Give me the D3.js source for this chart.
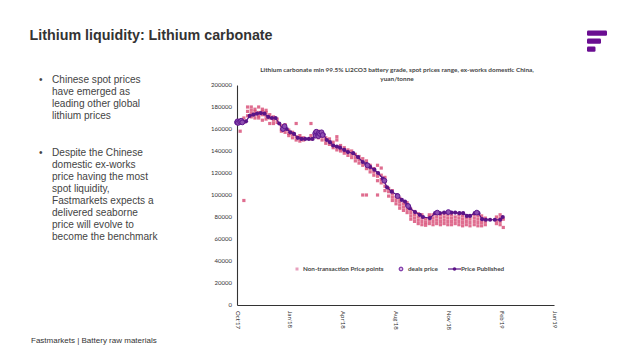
<!DOCTYPE html>
<html><head><meta charset="utf-8">
<script src="https://cdn.jsdelivr.net/npm/d3@7"></script>
<style>body{margin:0;background:#fff}svg{display:block}</style>
</head><body>
<svg id="c" width="638" height="359"></svg>
<script>
// ---------- data ----------
const xTickLabels = ["Oct'17","Jan'18","Apr'18","Aug'18","Nov'18","Feb'19","Jun'19"];
const yTicks = [0,20000,40000,60000,80000,100000,120000,140000,160000,180000,200000];

const publishedDates = ["2017-10-10","2017-10-13","2017-10-17","2017-10-20","2017-10-27","2017-11-03","2017-11-10","2017-11-17","2017-11-24","2017-12-01","2017-12-08","2017-12-15","2017-12-22","2017-12-29","2018-01-05","2018-01-09","2018-01-12","2018-01-19","2018-01-26","2018-02-02","2018-02-09","2018-02-16","2018-02-23","2018-03-02","2018-03-07","2018-03-09","2018-03-16","2018-03-23","2018-03-29","2018-04-04","2018-04-10","2018-04-17","2018-04-23","2018-05-01","2018-05-08","2018-05-18","2018-05-27","2018-06-05","2018-06-12","2018-06-19","2018-06-27","2018-07-04","2018-07-13","2018-07-21","2018-07-30","2018-08-09","2018-08-18","2018-08-24","2018-08-28","2018-09-02","2018-09-12","2018-09-21","2018-09-27","2018-10-10","2018-10-20","2018-10-29","2018-11-06","2018-11-13","2018-11-20","2018-11-27","2018-12-05","2018-12-12","2018-12-19","2018-12-25","2019-01-03","2019-01-10","2019-01-17","2019-01-24","2019-02-01","2019-02-10","2019-02-20","2019-02-25"];
const publishedValues = [166500,166500,166000,167000,167000,172000,173000,174000,174500,174000,171000,170000,170000,165000,159500,162000,160000,157000,155500,152000,151000,151000,151000,151000,155000,156000,156000,155000,150000,148000,145000,144000,143000,141000,139000,138000,134500,130000,128000,125500,123000,120000,115000,107000,103000,100000,95500,94000,91000,88000,84500,82000,80000,79000,83500,83500,84000,84000,84000,84000,83500,83500,81000,81000,83500,83500,78000,77500,77500,77500,77500,80000];

const dealDates = ["2017-10-10","2017-10-11","2017-10-12","2017-10-16","2017-10-18","2017-10-20","2018-01-05","2018-01-08","2018-03-07","2018-03-08","2018-03-09","2018-03-12","2018-03-13","2018-03-14","2018-03-16","2018-03-19","2018-03-21","2018-06-14","2018-07-16","2018-08-10","2018-08-30","2018-10-24","2018-11-14","2019-01-07"];
const dealValues = [166000,167000,165500,166500,167500,166000,160000,162500,156000,154000,157500,155000,153500,156500,155500,157000,154500,127000,113000,99000,90000,84000,84500,84000];

const nonTxDates = ["2017-10-12","2017-10-16","2017-10-23","2017-10-30","2017-11-06","2017-11-13","2017-11-20","2017-11-27","2017-12-04","2017-12-11","2017-12-18","2017-12-25","2018-01-02","2018-01-09","2018-01-16","2018-01-23","2018-01-30","2018-02-06","2018-02-13","2018-02-27","2018-03-06","2018-03-13","2018-03-20","2018-03-27","2018-04-03","2018-04-10","2018-04-17","2018-04-24","2018-05-01","2018-05-08","2018-05-15","2018-05-22","2018-05-29","2018-06-05","2018-06-12","2018-06-19","2018-06-26","2018-07-03","2018-07-10","2018-07-17","2018-07-24","2018-07-31","2018-08-07","2018-08-14","2018-08-21","2018-08-28","2018-09-04","2018-09-11","2018-09-18","2018-09-25","2018-10-02","2018-10-09","2018-10-16","2018-10-23","2018-10-30","2018-11-06","2018-11-13","2018-11-20","2018-11-27","2018-12-04","2018-12-11","2018-12-18","2018-12-25","2019-01-02","2019-01-09","2019-01-16","2019-01-23","2019-02-13","2019-02-20","2019-02-26"];
const nonTxValues = [
 [167000,165000],[158000,168000],[95000,166000,170000],[172000,176000,180000],[171000,174000,177000,180000],
 [170000,173000,176000,178000],[170000,172000,175000,180000],[168000,173000,176000,178000],[169000,172000,175000,177000],[165000,170000,173000],
 [165000,168000,171000],[166000,169000],[158000,160000,163000],[157000,160000,164000],[154000,156000,159000],
 [152000,155000,157000],[150000,153000,165000],[149000,152000,154000],[150000,152000],[151000,154000,165000],
 [153000,157000],[152000,155000,158000],[150000,153000,156000],[147000,150000,152000],[146000,148000,151000],
 [143000,145000,148000],[141000,144000,150000,153000],[140000,142000,145000],[138000,140000,143000],[136000,139000,141000],
 [134000,137000,140000],[131000,134000,137000],[129000,132000,135000],[100000,127000,130000,133000],[100000,124000,128000,131000],
 [121000,124000,127000],[118000,121000,124000],[100000,113000,117000,120000,127000],[111000,114000,118000,124500],[104000,108000,112000,116000],
 [99000,103000,106000],[95000,98000,101000,104000],[92000,95000,98000],[88000,91000,94000,97000],[86000,89000,92000],
 [84000,87000,90000,93000],[78000,81000,84000,87000],[76000,79000,82000,85000],[74000,77000,80000,83000],[73000,76000,79000,82000],
 [72500,75000,78000],[74000,77000,80000,82000],[73000,76000,79000,82000],[74000,77000,80000,83000],[73000,76000,79000,82000],
 [74000,77000,80000,83000],[73000,76000,79000,82000],[73000,76000,79000,82000],[74000,77000,80000],[73000,76000,79000,82000],
 [72000,75000,78000,81000],[73000,76000,79000],[72000,75000,78000,81000],[73000,76000,79000,82000],[72000,75000,78000,81000],
 [72000,75000,78000,81000],[73000,76000,79000],[74000,77000,80000],[73000,76000,79000,82000],[70500,78000]
];

const bullets = [
 ["Chinese spot prices","have emerged as","leading other global","lithium prices"],
 ["Despite the Chinese","domestic ex-works","price having the most","spot liquidity,","Fastmarkets expects a","delivered seaborne","price will evolve to","become the benchmark"]
];

// ---------- drawing ----------
const parse = d3.timeParse("%Y-%m-%d");
const svg = d3.select("#c");
svg.append("rect").attr("width",638).attr("height",359).attr("fill","#fff");

const PURPLE = "#5b1487";
const PINK = "#d6446f";

// header
svg.append("text").attr("x",29.5).attr("y",39.5).attr("font-family","Liberation Sans, Arial, sans-serif")
  .attr("font-weight","bold").attr("font-size",14.3).attr("fill","#333").text("Lithium liquidity: Lithium carbonate");

// logo
const logo = svg.append("g").attr("fill","#6a0d91");
[[587,30.5,20],[587,38.5,14],[587,46.5,8.5]].forEach(b=>{
  logo.append("rect").attr("x",b[0]).attr("y",b[1]).attr("width",b[2]).attr("height",5.2).attr("rx",1.2);
});

// bullets
const bt = svg.append("g").attr("font-family","Liberation Sans, Arial, sans-serif").attr("font-size",10.1).attr("fill","#444");
let yb = 83;
bullets.forEach((lines,bi)=>{
  bt.append("text").attr("x",39).attr("y",yb).text("•");
  lines.forEach((ln,i)=>{
    bt.append("text").attr("x",52).attr("y",yb + i*12.1).text(ln);
  });
  yb += lines.length*12.1 + 24.3;
});

// footer
svg.append("text").attr("x",31).attr("y",343).attr("font-family","Liberation Sans, Arial, sans-serif")
  .attr("font-size",8).attr("fill","#333").text("Fastmarkets | Battery raw materials");

// chart title
const ct = svg.append("g").attr("font-family","Lato, 'Open Sans', sans-serif").attr("font-size",6.4)
  .attr("font-weight","bold").attr("fill","#444").attr("text-anchor","middle");
ct.append("text").attr("x",397).attr("y",72).text("Lithium carbonate min 99.5% Li2CO3 battery grade, spot prices range, ex-works domestic China,");
ct.append("text").attr("x",397).attr("y",81).text("yuan/tonne");

// scales
const d0 = parse("2017-10-10");
const xTickDates = xTickLabels.map((_,k)=>d3.timeDay.offset(d0,100*k));
const x = d3.scaleTime().domain([xTickDates[0], xTickDates[xTickDates.length-1]]).range([237,554]);
const y = d3.scaleLinear().domain([0,200000]).range([305,85]);

// axes
const yAxis = svg.append("g").attr("transform","translate(237,0)")
  .call(d3.axisLeft(y).tickValues(yTicks).tickSize(0).tickPadding(5).tickFormat(d=>String(d)));
yAxis.select(".domain").attr("stroke","#333").attr("stroke-width",1.1);
yAxis.selectAll("text").attr("font-family","Lato, sans-serif").attr("font-size",6).attr("fill","#333");

const xAxis = svg.append("g").attr("transform","translate(0,305)")
  .call(d3.axisBottom(x).tickValues(xTickDates).tickSize(0).tickFormat((d,i)=>xTickLabels[i]));
xAxis.select(".domain").attr("stroke","#333").attr("stroke-width",1.1);
xAxis.selectAll("text").attr("font-family","Lato, sans-serif").attr("font-size",6).attr("fill","#333")
  .attr("transform","rotate(90)").attr("text-anchor","start").attr("x",6).attr("y",0).attr("dy","0.32em");

// non-transaction points
const nt = [];
nonTxDates.forEach((d,i)=>nonTxValues[i].forEach(v=>nt.push([parse(d),v])));
svg.append("g").selectAll("rect").data(nt).join("rect")
  .attr("x",d=>x(d[0])-1.6).attr("y",d=>y(d[1])-1.6).attr("width",3.2).attr("height",3.2)
  .attr("fill",PINK).attr("opacity",0.78);

// published line
const pub = publishedDates.map((d,i)=>[parse(d),publishedValues[i]]);
svg.append("path").datum(pub).attr("fill","none").attr("stroke",PURPLE).attr("stroke-width",1.2)
  .attr("d",d3.line().x(d=>x(d[0])).y(d=>y(d[1])));
svg.append("g").selectAll("circle").data(pub).join("circle")
  .attr("cx",d=>x(d[0])).attr("cy",d=>y(d[1])).attr("r",2.1).attr("fill",PURPLE);

// deals
const deals = dealDates.map((d,i)=>[parse(d),dealValues[i]]);
svg.append("g").selectAll("circle").data(deals).join("circle")
  .attr("cx",d=>x(d[0])).attr("cy",d=>y(d[1])).attr("r",2.4).attr("fill","#8e4fb0")
  .attr("stroke","#5e1790").attr("stroke-width",1);

// legend
const lg = svg.append("g").attr("font-family","Lato, sans-serif").attr("font-size",6.3).attr("font-weight","bold").attr("fill","#444");
lg.append("rect").attr("x",295.5).attr("y",267.5).attr("width",3).attr("height",3).attr("fill","#e7a0bd");
lg.append("text").attr("x",303).attr("y",271.3).text("Non-transaction Price points");
lg.append("circle").attr("cx",401).attr("cy",269).attr("r",1.9).attr("fill","#d9b8e6").attr("stroke","#6a1b9a").attr("stroke-width",1);
lg.append("text").attr("x",408).attr("y",271.3).text("deals price");
lg.append("line").attr("x1",448).attr("x2",461).attr("y1",269).attr("y2",269).attr("stroke",PURPLE).attr("stroke-width",1.2);
lg.append("circle").attr("cx",454.5).attr("cy",269).attr("r",1.8).attr("fill",PURPLE);
lg.append("text").attr("x",461).attr("y",271.3).text("Price Published");
</script>
</body></html>
